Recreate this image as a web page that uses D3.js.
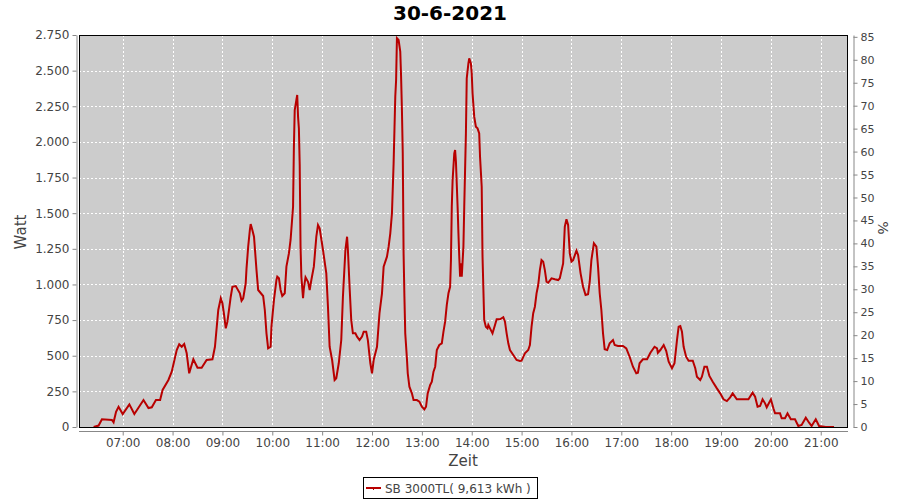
<!DOCTYPE html>
<html><head><meta charset="utf-8">
<script src="https://cdn.jsdelivr.net/npm/d3@7"></script>
<style>body{margin:0;background:#fff;} text{font-family:"DejaVu Sans",sans-serif;}</style>
</head><body><svg id="c" width="900" height="500"></svg>
<script>
const title = "30-6-2021";
const seriesName = "SB 3000TL( 9,613 kWh )";
const times = ["06:25","06:31","06:35","06:47","06:49","06:52","06:55","07:00","07:08","07:14","07:25","07:31","07:35","07:40","07:45","07:48","07:55","07:59","08:05","08:08","08:11","08:14","08:17","08:20","08:25","08:30","08:35","08:41","08:48","08:51","08:55","08:58","09:00","09:02","09:04","09:06","09:10","09:12","09:16","09:21","09:23","09:25","09:28","09:29","09:31","09:33","09:34","09:36","09:38","09:41","09:43","09:49","09:51","09:53","09:55","09:58","09:59","10:02","10:05","10:06","10:08","10:10","10:12","10:15","10:17","10:20","10:22","10:25","10:26","10:27","10:29","10:30","10:31","10:32","10:33","10:34","10:35","10:37","10:38","10:40","10:43","10:45","10:47","10:50","10:53","10:55","10:57","11:01","11:05","11:07","11:09","11:12","11:15","11:17","11:20","11:23","11:25","11:28","11:30","11:31","11:33","11:35","11:37","11:40","11:42","11:45","11:48","11:50","11:53","11:55","11:58","12:00","12:02","12:06","12:09","12:12","12:14","12:18","12:20","12:22","12:24","12:26","12:27","12:28","12:29","12:30","12:32","12:34","12:35","12:36","12:37","12:38","12:39","12:40","12:42","12:43","12:45","12:48","12:50","12:54","12:57","13:00","13:03","13:05","13:07","13:10","13:12","13:14","13:16","13:18","13:21","13:24","13:26","13:28","13:30","13:32","13:34","13:35","13:36","13:37","13:39","13:40","13:41","13:43","13:44","13:45","13:46","13:47","13:48","13:50","13:51","13:52","13:53","13:54","13:56","13:57","13:59","14:00","14:01","14:03","14:05","14:07","14:09","14:10","14:12","14:13","14:15","14:17","14:19","14:20","14:22","14:25","14:28","14:30","14:34","14:38","14:40","14:42","14:44","14:46","14:50","14:54","14:58","15:00","15:04","15:08","15:10","15:12","15:14","15:16","15:18","15:20","15:22","15:24","15:26","15:28","15:30","15:32","15:36","15:40","15:44","15:46","15:50","15:52","15:54","15:56","15:58","16:00","16:02","16:06","16:08","16:11","16:14","16:17","16:20","16:22","16:24","16:27","16:30","16:32","16:34","16:36","16:38","16:40","16:43","16:46","16:50","16:52","16:56","17:02","17:06","17:10","17:14","17:18","17:20","17:22","17:26","17:31","17:35","17:40","17:43","17:44","17:47","17:51","17:54","17:57","18:01","18:04","18:07","18:09","18:11","18:13","18:15","18:18","18:21","18:26","18:29","18:31","18:35","18:37","18:40","18:43","18:46","18:50","18:55","18:59","19:03","19:07","19:11","19:14","19:19","19:33","19:38","19:41","19:44","19:47","19:50","19:53","19:55","20:00","20:03","20:05","20:11","20:13","20:17","20:20","20:24","20:29","20:33","20:37","20:42","20:46","20:49","20:54","20:58","21:06","21:16"];
const watts = [0,10,54,49,33,107,142,91,159,91,189,133,138,189,189,260,330,388,540,580,563,582,517,377,475,416,416,470,475,563,821,903,868,786,692,739,914,984,989,938,886,903,1008,1113,1265,1382,1424,1382,1335,1101,961,919,821,657,552,563,704,891,1031,1054,1043,961,919,938,1125,1218,1312,1545,1966,2224,2294,2329,2177,2095,1838,1265,1054,903,973,1050,1019,961,1031,1125,1335,1417,1394,1242,1078,844,563,470,330,342,447,610,914,1242,1335,1242,984,751,657,657,634,610,634,669,669,610,447,377,470,563,798,938,1125,1195,1265,1359,1499,1850,2083,2317,2434,2727,2715,2633,2457,2224,1920,1218,914,657,482,377,283,236,189,189,178,142,124,142,236,295,318,388,423,540,575,587,669,739,856,938,984,1171,1545,1733,1920,1943,1861,1545,1359,1195,1054,1148,1054,1265,1545,1803,2060,2446,2551,2586,2551,2481,2341,2177,2107,2095,2060,1896,1686,1195,751,704,692,716,692,657,716,756,756,770,739,657,587,540,505,470,463,465,517,540,575,704,798,844,938,996,1101,1171,1160,1101,1019,1012,1043,1036,1031,1043,1148,1405,1457,1417,1218,1160,1171,1237,1207,1078,984,926,931,1019,1171,1289,1265,1125,938,821,657,545,540,587,610,575,568,568,552,493,423,377,381,447,475,475,521,563,552,521,540,575,535,458,412,447,610,704,708,669,563,493,465,465,412,353,330,353,423,423,358,318,271,236,194,182,208,236,194,194,241,213,142,147,194,166,138,194,131,96,96,61,61,96,54,54,7,14,65,30,7,54,7,0,0];
const wattTicks = [0,250,500,750,1000,1250,1500,1750,2000,2250,2500,2750];
const pctTicks = [0,5,10,15,20,25,30,35,40,45,50,55,60,65,70,75,80,85];
const hourTicks = ["07:00","08:00","09:00","10:00","11:00","12:00","13:00","14:00","15:00","16:00","17:00","18:00","19:00","20:00","21:00"];

const parse = d3.timeParse("%H:%M:%S");
const pt = s => parse(s.length === 5 ? s + ":00" : s);
const data = times.map((t, i) => ({t: pt(t), w: watts[i]}));
const loc = d3.formatLocale({decimal: ",", thousands: ".", grouping: [3], currency: ["", "€"]});
const fmt = loc.format(",d");

const L = 79, R = 848, T = 35, B = 427;
const x = d3.scaleTime().domain([pt("06:07:24"), pt("21:32:48")]).range([L, R]);
const y = d3.scaleLinear().domain([0, 2750]).range([B, T]);
const y2 = d3.scaleLinear().domain([0, 85.4]).range([B, T]);

const svg = d3.select("#c");
svg.append("text").attr("x", 450).attr("y", 20).attr("text-anchor", "middle")
  .attr("font-size", 20).attr("font-weight", "bold").attr("fill", "#000").text(title);

svg.append("rect").attr("x", L).attr("y", T).attr("width", R - L).attr("height", B - T).attr("fill", "#cccccc");

const grid = svg.append("g").attr("stroke", "#fff").attr("stroke-width", 1).attr("stroke-dasharray", "2,2").attr("shape-rendering", "crispEdges");
grid.selectAll(".h").data(wattTicks.slice(1)).join("line")
  .attr("x1", L).attr("x2", R).attr("y1", d => Math.round(y(d)) + 0.5).attr("y2", d => Math.round(y(d)) + 0.5);
grid.selectAll(".v").data(hourTicks).join("line")
  .attr("y1", T).attr("y2", B).attr("x1", d => Math.round(x(pt(d))) + 0.5).attr("x2", d => Math.round(x(pt(d))) + 0.5);

const line = d3.line().x(d => x(d.t)).y(d => y(d.w));
svg.append("path").datum(data).attr("d", line).attr("fill", "none")
  .attr("stroke", "#b80000").attr("stroke-width", 2).attr("stroke-linejoin", "miter");

svg.append("rect").attr("x", L + 0.5).attr("y", T + 0.5).attr("width", R - L - 1).attr("height", B - T)
  .attr("fill", "none").attr("stroke", "#000").attr("stroke-width", 1);

function styleAxis(g) {
  g.selectAll(".domain").attr("stroke", "#888");
  g.selectAll(".tick line").attr("stroke", "#888");
  g.selectAll(".tick text").attr("fill", "#444").attr("font-size", 12).attr("font-family", "DejaVu Sans, sans-serif");
}
const gl = svg.append("g").attr("transform", "translate(76.5,0)")
  .call(d3.axisLeft(y).tickValues(wattTicks).tickFormat(fmt).tickSize(4).tickSizeOuter(0).tickPadding(3));
styleAxis(gl);
const gr = svg.append("g").attr("transform", "translate(853.5,0)")
  .call(d3.axisRight(y2).tickValues(pctTicks).tickSize(4).tickSizeOuter(0).tickPadding(3));
styleAxis(gr);
gr.selectAll(".tick text").attr("font-size", 11);
const gb = svg.append("g").attr("transform", "translate(0,431.5)")
  .call(d3.axisBottom(x).tickValues(hourTicks.map(pt)).tickFormat(d3.timeFormat("%H:%M")).tickSize(4).tickSizeOuter(0).tickPadding(3));
styleAxis(gb);
gb.select(".domain").attr("d", `M${L},0H${R}`);

svg.append("text").attr("transform", "translate(26,232) rotate(-90)").attr("text-anchor", "middle")
  .attr("font-size", 15).attr("fill", "#444").text("Watt");
svg.append("text").attr("x", 463).attr("y", 466).attr("text-anchor", "middle")
  .attr("font-size", 15).attr("fill", "#444").text("Zeit");
svg.append("text").attr("transform", "translate(878,228) rotate(90)").attr("text-anchor", "middle")
  .attr("font-size", 14).attr("fill", "#444").text("%");

const lg = svg.append("g");
lg.append("rect").attr("x", 363.5).attr("y", 477.5).attr("width", 174).attr("height", 21).attr("fill", "#fff").attr("stroke", "#000");
lg.append("line").attr("x1", 366).attr("x2", 381).attr("y1", 488).attr("y2", 488).attr("stroke", "#b80000").attr("stroke-width", 2);
lg.append("line").attr("x1", 373.5).attr("x2", 373.5).attr("y1", 488).attr("y2", 490).attr("stroke", "#b80000").attr("stroke-width", 1);
lg.append("text").attr("x", 385).attr("y", 492.5).attr("font-size", 12).attr("fill", "#444").text(seriesName);
</script></body></html>
